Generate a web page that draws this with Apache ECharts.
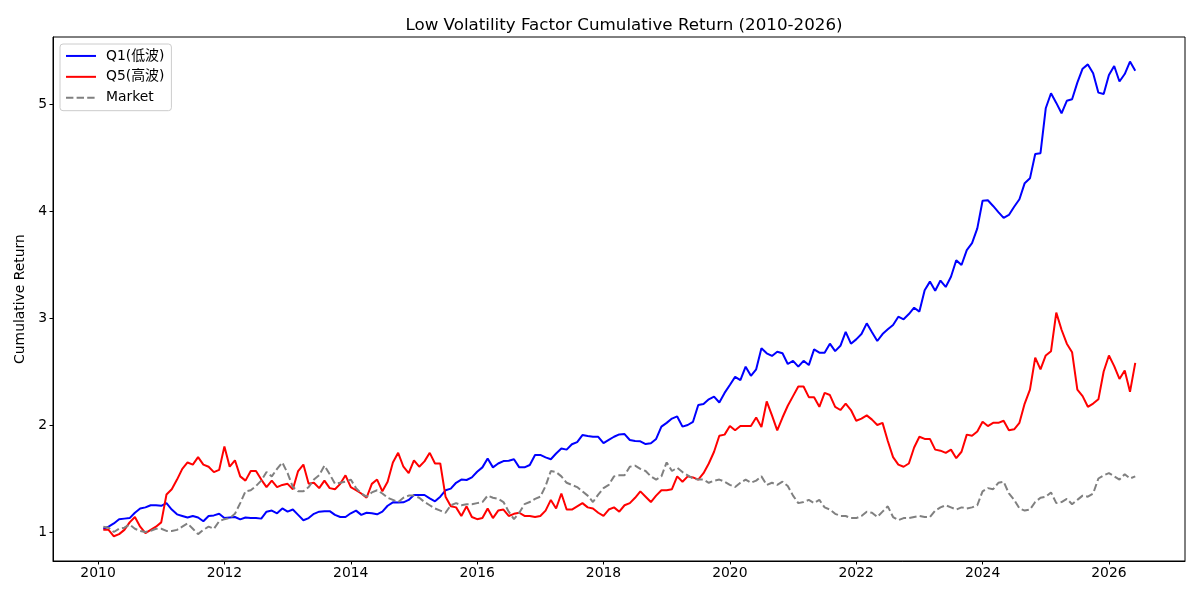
<!DOCTYPE html>
<html>
<head>
<meta charset="utf-8">
<title>Low Volatility Factor Cumulative Return</title>
<script src="https://cdn.jsdelivr.net/npm/echarts@6.0.0/dist/echarts.min.js"></script>
<style>
  html, body { margin: 0; padding: 0; background: #fff; }
  #chart { width: 1200px; height: 600px; }
</style>
</head>
<body>
<div id="chart"></div>
<script>
// monthly, Jan 2010 .. May 2026 (month-end)
const startYear = 2010;
const yearTicks = [2010, 2012, 2014, 2016, 2018, 2020, 2022, 2024, 2026];
const valueTicks = [1, 2, 3, 4, 5];

const q1 = [
  1.03,1.05,1.08,1.12,1.125,1.13,1.18,1.22,1.23,1.25,1.25,1.245,1.27,1.21,1.165,1.15,1.135,1.15,1.135,1.10,
  1.15,1.155,1.17,1.13,1.135,1.14,1.118,1.135,1.13,1.13,1.125,1.19,1.20,1.175,1.22,1.19,1.21,1.16,1.11,1.13,
  1.17,1.19,1.195,1.195,1.16,1.14,1.14,1.175,1.20,1.16,1.18,
  1.175,1.165,1.19,1.245,1.277,1.275,1.277,1.30,1.346,1.346,1.346,1.315,1.287,1.33,1.39,1.405,1.46,1.49,1.486,1.51,
  1.563,1.604,1.688,1.604,1.64,1.663,1.666,1.68,1.604,1.604,1.626,1.72,1.72,1.697,1.68,1.734,1.78,1.77,1.82,1.84,
  1.906,1.897,1.89,1.89,1.83,1.86,1.89,1.912,1.915,1.86,
  1.85,1.848,1.822,1.83,1.87,1.985,2.02,2.06,2.08,1.985,2.0,2.03,2.187,2.196,2.24,2.265,2.21,2.30,2.374,2.45,
  2.42,2.545,2.46,2.52,2.717,2.67,2.645,2.685,2.67,2.57,2.60,2.545,2.60,2.56,2.707,2.676,2.676,2.76,2.69,2.74,
  2.87,2.76,2.80,2.85,2.95,2.866,2.785,
  2.85,2.894,2.935,3.012,2.988,3.037,3.096,3.06,3.26,3.34,3.255,3.35,3.29,3.386,3.54,3.495,3.635,3.70,3.838,4.096,
  4.10,4.047,3.99,3.935,3.963,4.04,4.11,4.26,4.305,4.533,4.54,4.96,5.10,5.01,4.913,5.03,5.044,5.20,5.33,5.37,
  5.287,5.106,5.093,5.27,5.355,5.21,5.28,5.396,5.31
];

const q5 = [
  1.02,1.02,0.96,0.98,1.02,1.09,1.14,1.05,0.99,1.02,1.05,1.09,1.35,1.40,1.49,1.59,1.65,1.63,1.70,1.63,
  1.61,1.56,1.58,1.80,1.61,1.67,1.52,1.48,1.57,1.57,1.49,1.42,1.48,1.42,1.44,1.45,1.40,1.57,1.63,1.45,
  1.46,1.41,1.48,1.41,1.40,1.45,1.53,1.42,1.39,1.36,1.32,
  1.45,1.49,1.38,1.47,1.65,1.74,1.61,1.55,1.67,1.61,1.66,1.74,1.64,1.64,1.33,1.24,1.23,1.15,1.24,1.14,
  1.12,1.13,1.22,1.13,1.20,1.21,1.15,1.17,1.18,1.15,1.15,1.14,1.15,1.20,1.30,1.22,1.36,1.21,1.21,1.24,
  1.27,1.23,1.22,1.18,1.15,1.21,1.23,1.19,1.25,1.27,
  1.32,1.38,1.33,1.28,1.34,1.39,1.39,1.40,1.52,1.47,1.52,1.51,1.49,1.55,1.64,1.75,1.90,1.91,1.99,1.95,
  1.99,1.99,1.99,2.07,1.98,2.22,2.09,1.95,2.07,2.18,2.27,2.36,2.36,2.26,2.26,2.17,2.30,2.28,2.17,2.14,
  2.20,2.14,2.04,2.06,2.09,2.05,2.00,
  2.02,1.85,1.70,1.63,1.61,1.64,1.79,1.89,1.87,1.87,1.77,1.76,1.74,1.77,1.69,1.75,1.91,1.90,1.94,2.03,
  1.99,2.02,2.02,2.04,1.95,1.96,2.02,2.20,2.33,2.63,2.52,2.65,2.69,3.05,2.89,2.76,2.68,2.33,2.27,2.17,
  2.20,2.24,2.50,2.65,2.55,2.43,2.51,2.31,2.58
];

const market = [
  1.05,1.04,1.00,1.03,1.04,1.07,1.03,1.01,1.00,1.01,1.03,1.03,1.01,1.01,1.02,1.05,1.08,1.03,0.98,1.02,
  1.05,1.03,1.10,1.12,1.13,1.17,1.27,1.38,1.39,1.43,1.48,1.56,1.52,1.59,1.65,1.55,1.42,1.38,1.38,1.42,
  1.49,1.53,1.62,1.54,1.45,1.46,1.47,1.49,1.41,1.36,1.33,
  1.37,1.39,1.36,1.32,1.30,1.28,1.32,1.34,1.34,1.32,1.28,1.25,1.22,1.20,1.18,1.25,1.27,1.25,1.26,1.26,
  1.27,1.28,1.34,1.32,1.31,1.28,1.19,1.12,1.18,1.26,1.28,1.31,1.33,1.43,1.57,1.56,1.52,1.46,1.44,1.42,
  1.38,1.34,1.28,1.35,1.41,1.44,1.52,1.53,1.53,1.61,
  1.62,1.59,1.57,1.52,1.49,1.52,1.65,1.57,1.60,1.56,1.53,1.50,1.49,1.49,1.46,1.48,1.49,1.47,1.44,1.42,
  1.46,1.49,1.46,1.48,1.52,1.44,1.46,1.44,1.47,1.43,1.34,1.27,1.28,1.30,1.27,1.30,1.23,1.21,1.17,1.15,
  1.15,1.13,1.13,1.15,1.19,1.18,1.14,
  1.19,1.24,1.14,1.11,1.13,1.13,1.14,1.15,1.14,1.14,1.20,1.23,1.25,1.23,1.21,1.23,1.22,1.23,1.25,1.38,
  1.41,1.40,1.46,1.47,1.36,1.30,1.22,1.20,1.21,1.28,1.32,1.33,1.37,1.27,1.28,1.31,1.26,1.30,1.34,1.33,
  1.36,1.50,1.53,1.55,1.52,1.49,1.54,1.50,1.52
];

// month-end positions as fractional years
const months = q1.map((v, i) => startYear + (i + 1) / 12);
const pair = arr => arr.map((v, i) => [months[i], v]);

const FONT = "'DejaVu Sans', 'Noto Sans CJK SC', sans-serif";

const myChart = echarts.init(document.getElementById('chart'), null, { renderer: 'canvas' });
const option = {
  animation: false,
  backgroundColor: '#fff',
  textStyle: { fontFamily: FONT, color: '#000' },
  title: {
    text: 'Low Volatility Factor Cumulative Return (2010-2026)',
    left: 619,
    textAlign: 'center',
    top: 12,
    textStyle: { fontFamily: FONT, fontSize: 16.7, fontWeight: 'normal', color: '#000' }
  },
  legend: {
    orient: 'vertical',
    left: 60,
    top: 44,
    padding: [5, 7, 6, 5],
    itemWidth: 30,
    itemHeight: 14,
    itemGap: 7,
    backgroundColor: 'rgba(255,255,255,0.8)',
    borderColor: '#cccccc',
    borderWidth: 1,
    borderRadius: 3,
    itemStyle: { opacity: 0 },
    textStyle: { fontFamily: FONT, fontSize: 13.9, color: '#000', padding: [0, 0, 0, 5] },
    data: ['Q1(低波)', 'Q5(高波)', 'Market']
  },
  grid: {
    left: 53, right: 15, top: 37, bottom: 39,
    outerBoundsMode: 'none',
    show: true,
    borderColor: '#000',
    borderWidth: 1,
    backgroundColor: 'transparent'
  },
  xAxis: {
    type: 'value',
    min: 2009.287,
    max: 2027.204,
    splitLine: { show: false },
    axisLine: { show: true, onZero: false, lineStyle: { color: '#000', width: 1 } },
    axisTick: { show: true, length: 3.5, customValues: yearTicks, lineStyle: { color: '#000' } },
    axisLabel: {
      customValues: yearTicks,
      margin: 5,
      fontFamily: FONT, fontSize: 13.9, color: '#000',
      formatter: v => String(Math.round(v))
    }
  },
  yAxis: {
    type: 'value',
    min: 0.729,
    max: 5.626,
    name: 'Cumulative Return',
    nameLocation: 'middle',
    nameGap: 26,
    nameTextStyle: { fontFamily: FONT, fontSize: 13.9, color: '#000' },
    splitLine: { show: false },
    axisLine: { show: true, onZero: false, lineStyle: { color: '#000', width: 1 } },
    axisTick: { show: true, length: 3.5, customValues: valueTicks, lineStyle: { color: '#000' } },
    axisLabel: {
      customValues: valueTicks,
      margin: 6,
      fontFamily: FONT, fontSize: 13.9, color: '#000',
      formatter: v => String(Math.round(v))
    }
  },
  series: [
    {
      name: 'Q1(低波)',
      type: 'line',
      symbol: 'none',
      data: pair(q1),
      lineStyle: { color: '#0000ff', width: 2 },
      itemStyle: { color: '#0000ff' },
      z: 3
    },
    {
      name: 'Q5(高波)',
      type: 'line',
      symbol: 'none',
      data: pair(q5),
      lineStyle: { color: '#ff0000', width: 2 },
      itemStyle: { color: '#ff0000' },
      z: 3
    },
    {
      name: 'Market',
      type: 'line',
      symbol: 'none',
      data: pair(market),
      lineStyle: { color: '#808080', width: 2, type: [7.4, 3.2] },
      itemStyle: { color: '#808080' },
      z: 3
    }
  ]
};
myChart.setOption(option, true);
window.addEventListener('resize', function () {
  myChart.resize();
});
</script>
</body>
</html>
